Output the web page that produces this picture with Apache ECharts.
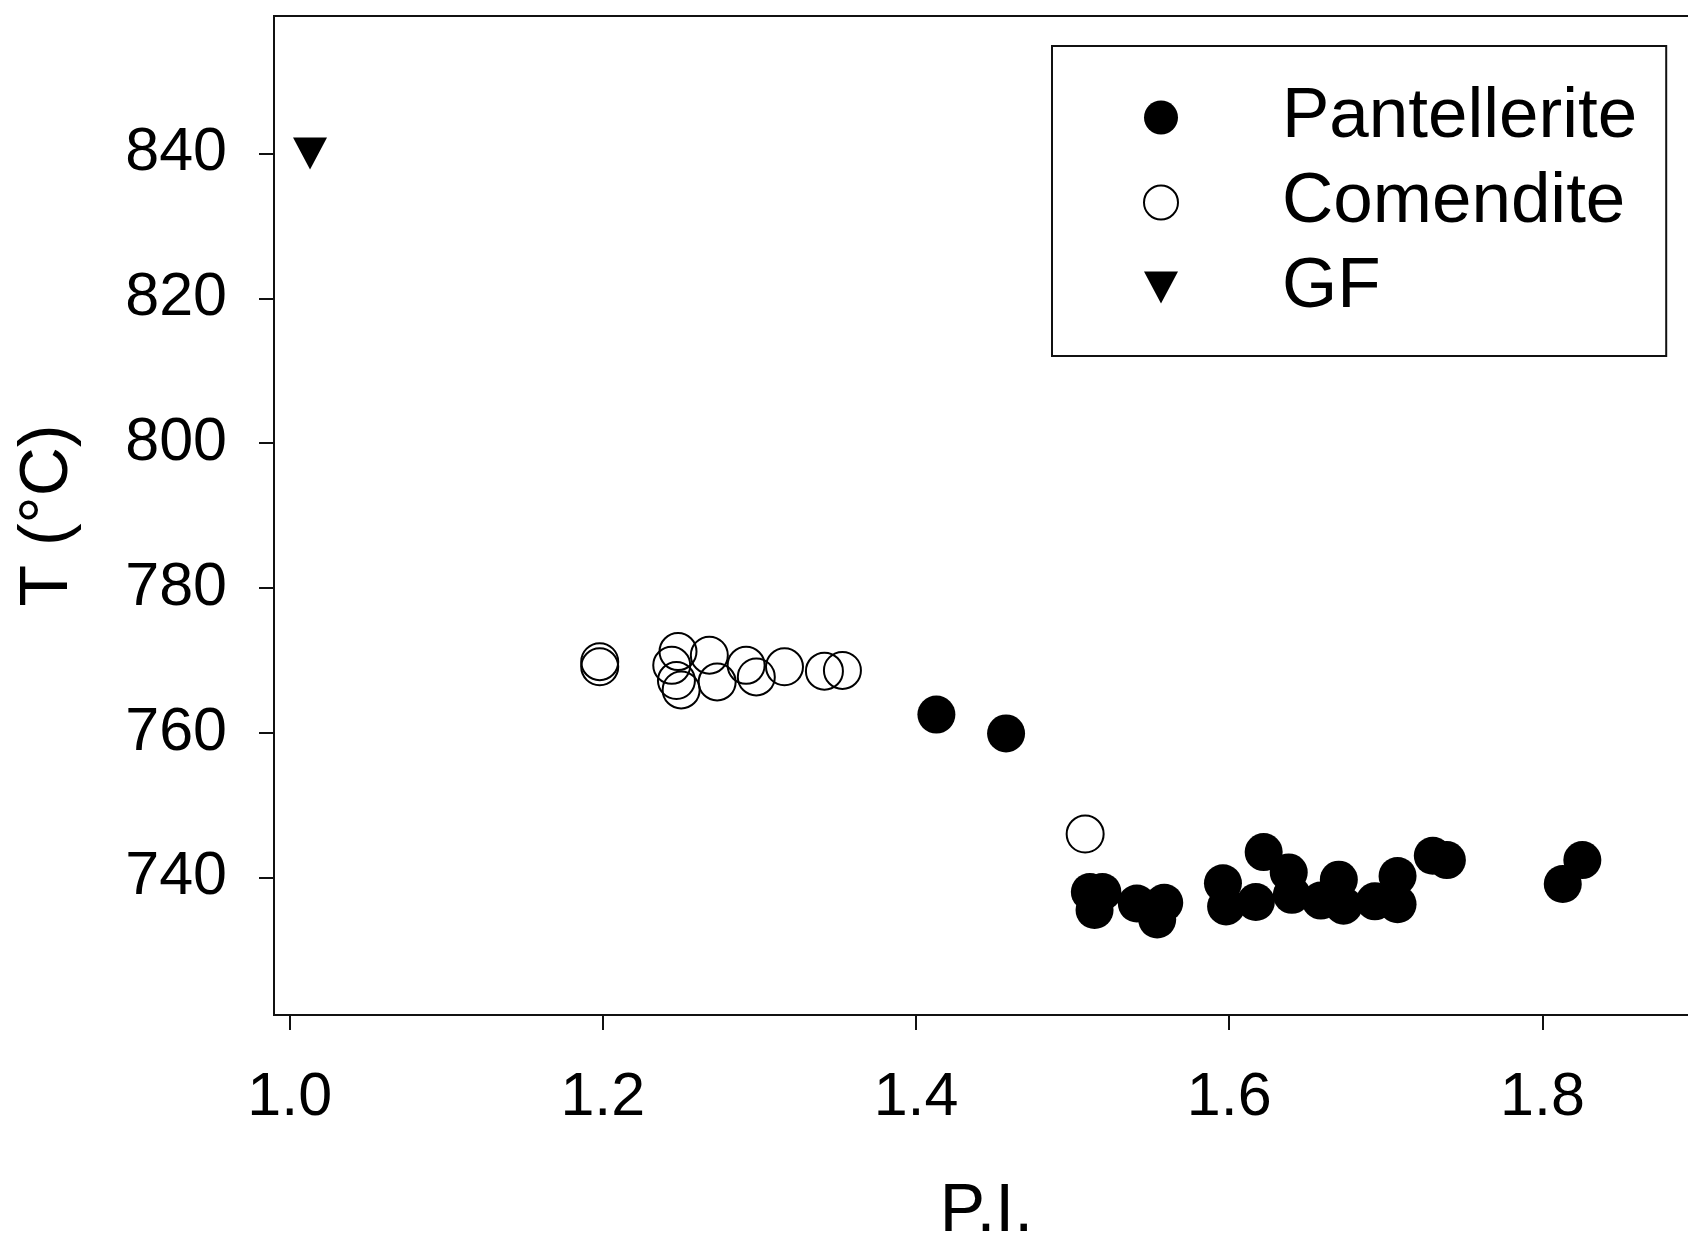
<!DOCTYPE html>
<html>
<head>
<meta charset="utf-8">
<script src="https://cdn.jsdelivr.net/npm/echarts@6/dist/echarts.min.js"></script>
<style>
  html, body { margin: 0; padding: 0; background: #ffffff; }
  #chart { width: 1688px; height: 1242px; }
</style>
</head>
<body>
<div id="chart"></div>
<script>
// Peralkalinity index (P.I.) against temperature (°C)
const pantelleriteX = [1.413, 1.4575, 1.511, 1.519, 1.514, 1.541, 1.5585, 1.554,
  1.596, 1.598, 1.622, 1.638, 1.617, 1.640, 1.670, 1.6585, 1.673, 1.693,
  1.7075, 1.7075, 1.730, 1.739, 1.8255, 1.813];
const pantelleriteT = [762.5, 759.9, 738.0, 738.0, 735.5, 736.4, 736.5, 734.2,
  739.2, 736.0, 743.5, 740.7, 736.6, 737.6, 739.7, 736.8, 736.1, 736.7,
  740.2, 736.3, 743.0, 742.4, 742.4, 739.1];

const comenditeX = [1.198, 1.198, 1.248, 1.244, 1.247, 1.250, 1.268, 1.273,
  1.2915, 1.298, 1.316, 1.3415, 1.353, 1.508];
const comenditeT = [769.8, 769.1, 771.2, 769.3, 767.2, 765.9, 770.7, 767.0,
  769.3, 767.7, 769.1, 768.5, 768.6, 746.0];

const gfX = [1.013];
const gfT = [840];

const xTicks = [1.0, 1.2, 1.4, 1.6, 1.8];
const yTicks = [740, 760, 780, 800, 820, 840];

const seriesNames = ['Pantellerite', 'Comendite', 'GF'];
const xTitle = 'P.I.';
const yTitle = 'T (°C)';

const pairs = (xs, ys) => xs.map((x, i) => [x, ys[i]]);

const FONT = 'Liberation Sans, Arial, sans-serif';
const INK = '#111111';
// downward-pointing triangle for the GF legend entry
const DOWN_TRIANGLE = 'path://M0,0 L10,0 L5,9.4 Z';

const chart = echarts.init(document.getElementById('chart'), null, { renderer: 'canvas' });

chart.setOption({
  animation: false,
  backgroundColor: '#ffffff',
  textStyle: { fontFamily: FONT, color: '#000' },
  grid: {
    left: 274, top: 16, width: 1425, height: 999,
    containLabel: false,
    outerBoundsMode: 'none',
    show: true, borderColor: INK, borderWidth: 2, backgroundColor: 'transparent'
  },
  xAxis: {
    type: 'value',
    min: 0.99, max: 1.9,
    name: xTitle,
    nameLocation: 'middle',
    nameGap: 163,
    nameTextStyle: { fontSize: 68, color: '#000', fontFamily: FONT },
    axisLine: { show: false },
    splitLine: { show: false },
    axisTick: {
      show: true, inside: false, length: 15,
      customValues: xTicks,
      lineStyle: { color: INK, width: 2 }
    },
    axisLabel: {
      customValues: xTicks,
      margin: 53,
      fontSize: 61, color: '#000', fontFamily: FONT,
      formatter: v => Number(v).toFixed(1)
    }
  },
  yAxis: {
    type: 'value',
    min: 721, max: 859,
    name: yTitle,
    nameLocation: 'middle',
    nameGap: 192,
    nameTextStyle: { fontSize: 68, color: '#000', fontFamily: FONT },
    axisLine: { show: false },
    splitLine: { show: false },
    axisTick: {
      show: true, inside: false, length: 15,
      customValues: yTicks,
      lineStyle: { color: INK, width: 2 }
    },
    axisLabel: {
      customValues: yTicks,
      margin: 47,
      fontSize: 61, color: '#000', fontFamily: FONT
    }
  },
  legend: {
    orient: 'vertical',
    left: 1052, top: 46,
    padding: [36, 29, 33, 91],
    itemWidth: 34, itemHeight: 34,
    itemGap: 14,
    borderColor: INK, borderWidth: 2,
    backgroundColor: '#ffffff',
    data: [
      { name: seriesNames[0] },
      { name: seriesNames[1] },
      { name: seriesNames[2], icon: DOWN_TRIANGLE }
    ],
    textStyle: {
      fontSize: 71, lineHeight: 70, color: '#000', fontFamily: FONT,
      padding: [0, 0, 0, 99]
    },
    selectedMode: false
  },
  series: [
    {
      name: seriesNames[0],
      type: 'scatter',
      data: pairs(pantelleriteX, pantelleriteT),
      symbol: 'circle',
      symbolSize: 38,
      itemStyle: { color: '#000000', opacity: 1 },
      emphasis: { disabled: true }
    },
    {
      name: seriesNames[1],
      type: 'scatter',
      data: pairs(comenditeX, comenditeT),
      symbol: 'circle',
      symbolSize: 37,
      itemStyle: { color: 'rgba(255,255,255,0)', borderColor: '#000000', borderWidth: 2, opacity: 1 },
      emphasis: { disabled: true }
    },
    {
      name: seriesNames[2],
      type: 'scatter',
      data: pairs(gfX, gfT),
      symbol: 'triangle',
      symbolRotate: 180,
      symbolSize: [34, 32],
      itemStyle: { color: '#000000', opacity: 1 },
      emphasis: { disabled: true }
    }
  ]
});
</script>
</body>
</html>
